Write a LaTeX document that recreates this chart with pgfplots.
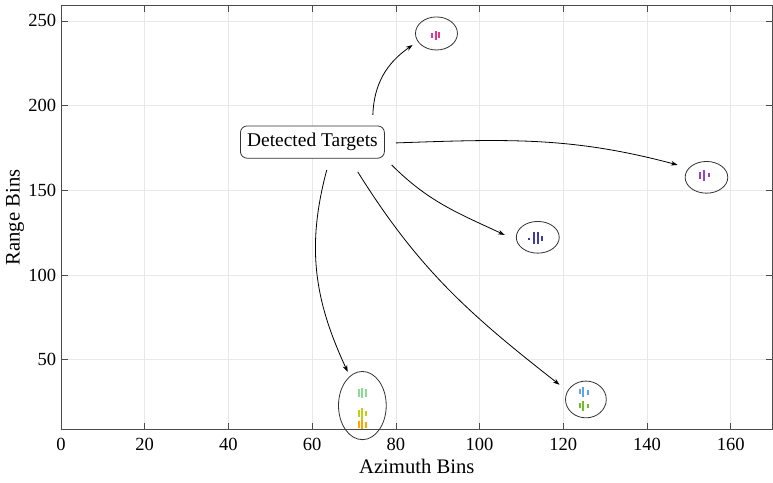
\documentclass[border=0pt]{standalone}
\usepackage{pgfplots}
\pgfplotsset{compat=1.18}
\usepackage{fontspec}
\setmainfont{Liberation Serif}
\usetikzlibrary{arrows.meta}

\definecolor{tpink}{RGB}{230,50,150}
\definecolor{tpurple}{RGB}{155,65,200}
\definecolor{tnavy}{RGB}{60,60,165}
\definecolor{tlblue}{RGB}{95,165,225}
\definecolor{tgreen}{RGB}{110,190,40}
\definecolor{tlgreen}{RGB}{140,220,150}
\definecolor{tyellow}{RGB}{190,210,20}
\definecolor{torange}{RGB}{255,165,0}

\begin{document}
\begin{tikzpicture}
\begin{axis}[
  scale only axis, width=534pt, height=318.75pt,
  xmin=0, xmax=170, ymin=8.7, ymax=259.4,
  xtick={0,20,...,160}, ytick={50,100,...,250},
  grid=major, major grid style={draw=gray!18, line width=0.5pt},
  axis line style={draw=black!70, line width=0.6pt},
  tick style={draw=black!70, line width=0.5pt},
  tick align=inside, major tick length=5pt,
  /pgf/number format/assume math mode=true,
  ticklabel style={font=\fontsize{13.9}{16}\selectfont},
  x tick label style={yshift=-3pt},
  label style={font=\fontsize{15.5}{18}\selectfont},
  xlabel={Azimuth Bins}, ylabel={Range Bins},
  xlabel style={at={(axis description cs:0.5,-0.1035)}, anchor=base},
  ylabel style={at={(axis description cs:-0.0646,0.5)}, anchor=center},
  unbounded coords=jump, clip=false,
  every axis plot/.append style={line width=1.5pt},
]
% target clusters (each bar = one short segment)
\addplot[tpink] coordinates {
  (88.7,240.1) (88.7,242.7) (88.7,nan)
  (89.5,238.8) (89.5,244.1) (89.5,nan)
  (90.4,239.8) (90.4,243.3)};
\addplot[tpurple] coordinates {
  (152.7,156.8) (152.7,160.7) (152.7,nan)
  (153.7,155.6) (153.7,162.1) (153.7,nan)
  (154.7,157.8) (154.7,160.1)};
\addplot[tnavy] coordinates {
  (111.9,120.8) (111.9,122.0) (111.9,nan)
  (112.9,118.6) (112.9,125.5) (112.9,nan)
  (114.0,118.6) (114.0,125.5) (114.0,nan)
  (115.0,120.2) (115.0,123.3)};
\addplot[tlblue] coordinates {
  (123.9,29.8) (123.9,32.9) (123.9,nan)
  (124.8,28.3) (124.8,33.7) (124.8,nan)
  (125.8,29.4) (125.8,32.3)};
\addplot[tgreen] coordinates {
  (123.9,21.5) (123.9,24.5) (123.9,nan)
  (124.8,19.9) (124.8,25.4) (124.8,nan)
  (125.8,21.5) (125.8,24.0)};
\addplot[tlgreen] coordinates {
  (71.2,28.2) (71.2,32.5) (71.2,nan)
  (72.0,27.6) (72.0,33.5) (72.0,nan)
  (72.8,28.2) (72.8,32.5)};
\addplot[tyellow] coordinates {
  (71.2,16.4) (71.2,20.3) (71.2,nan)
  (72.0,14.4) (72.0,21.7) (72.0,nan)
  (72.8,16.8) (72.8,19.7)};
\addplot[torange] coordinates {
  (71.2,9.9) (71.2,13.8) (71.2,nan)
  (72.0,8.9) (72.0,14.4) (72.0,nan)
  (72.8,9.9) (72.8,13.4)};

% circles round the targets
\draw[black!80, line width=0.6pt] (axis cs:89.7,242.6) ellipse [x radius=15.75pt, y radius=12.4pt];
\draw[black!80, line width=0.6pt] (axis cs:154.2,157.7) ellipse [x radius=16pt, y radius=11.9pt];
\draw[black!80, line width=0.6pt] (axis cs:113.9,122.3) ellipse [x radius=16.1pt, y radius=11.9pt];
\draw[black!80, line width=0.6pt] (axis cs:125.4,26.6) ellipse [x radius=15.3pt, y radius=13.8pt];
\draw[black!80, line width=0.6pt] (axis cs:72.0,23.0) ellipse [x radius=17.9pt, y radius=25.6pt];

% arrows
\begin{scope}[black, line width=0.6pt, -{Stealth[length=5pt, width=3.5pt]}]
\draw (axis cs:74.5,194.5) to[out=88, in=215] (axis cs:84.0,235.8);
\draw (axis cs:80.0,178.0) to[out=2, in=165] (axis cs:147.3,165.0);
\draw (axis cs:79.0,165.0) to[out=-45, in=155] (axis cs:106.0,123.7);
\draw (axis cs:70.9,160.9) to[out=-58, in=142] (axis cs:119.1,35.3);
\draw (axis cs:63.5,162.1) to[out=-105, in=115] (axis cs:68.5,42.9);
\end{scope}

\node[draw=black!80, fill=white, line width=0.6pt, rounded corners=5pt,
  inner xsep=5pt, minimum height=24.2pt,
  font=\fontsize{14.6}{17}\selectfont] at (axis cs:60.07,178.5) {Detected Targets};

\coordinate (sw) at (rel axis cs:0,0);
\coordinate (ne) at (rel axis cs:1,1);
\end{axis}
\pgfresetboundingbox
\path[use as bounding box] ([xshift=-45.75pt, yshift=-39.75pt]sw) rectangle ([xshift=0.3pt, yshift=3.75pt]ne);
\end{tikzpicture}
\end{document}
